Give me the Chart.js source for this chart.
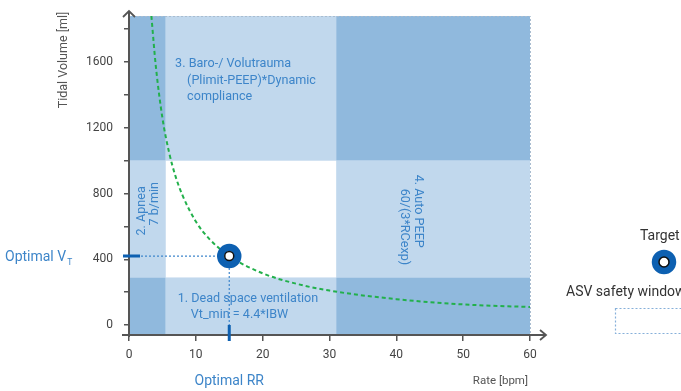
<!DOCTYPE html>
<html>
<head>
<meta charset="utf-8">
<script src="https://cdn.jsdelivr.net/npm/chart.js@4.4.0/dist/chart.umd.min.js"></script>
<style>
  html, body { margin: 0; padding: 0; background: #fff; overflow: hidden; }
</style>
</head>
<body>
<canvas id="chart" width="681" height="391"></canvas>
<script>
// valeurs
const curveRate = [3.35, 4, 5, 6, 7, 8, 10, 12, 15, 20, 25, 30, 40, 50, 60];
const curveVt = [1880, 1580, 1260, 1050, 900, 790, 630, 525, 420, 315, 252, 210, 158, 126, 110];
const targetRate = [15];
const targetVt = [420];
// limites de la fenetre ASV
const rateLimits = [5.5, 31];
const vtLimits = [290, 1000];
const xTicks = [0, 10, 20, 30, 40, 50, 60];
const yTicks = [0, 200, 400, 600, 800, 1000, 1200, 1400, 1600, 1800];
const yLabels = [0, 400, 800, 1200, 1600];

const light = "#c1d8ed";
const dark = "#90b9dd";
const textBlue = "#3d85c9";
const ringBlue = "#0d60b1";

function drawLines(ctx, lines, lh) {
  lines.forEach((l, i) => ctx.fillText(l[0], l[1], i * lh));
}

const zones = {
  id: "zones",
  beforeDraw(chart) {
    const { ctx, chartArea: a, scales: { x, y } } = chart;
    const xs = [a.left, x.getPixelForValue(rateLimits[0]), x.getPixelForValue(rateLimits[1]), a.right];
    const ys = [a.top, y.getPixelForValue(vtLimits[1]), y.getPixelForValue(vtLimits[0]), a.bottom];
    ctx.save();
    for (let i = 0; i < 3; i++) {
      for (let j = 0; j < 3; j++) {
        const n = (i != 1 ? 1 : 0) + (j != 1 ? 1 : 0);
        if (n == 0) continue;
        ctx.fillStyle = n == 2 ? dark : light;
        ctx.fillRect(xs[i], ys[j], xs[i + 1] - xs[i], ys[j + 1] - ys[j]);
      }
    }
    // bord pointille haut et droite
    ctx.strokeStyle = "#a9bccf";
    ctx.lineWidth = 1;
    ctx.setLineDash([2, 2]);
    ctx.beginPath();
    ctx.moveTo(a.left, a.top + 0.5);
    ctx.lineTo(a.right + 0.5, a.top + 0.5);
    ctx.lineTo(a.right + 0.5, a.bottom);
    ctx.stroke();
    ctx.restore();
  },
  beforeDatasetsDraw(chart) {
    const { ctx, chartArea: a, scales: { x, y } } = chart;
    const px = x.getPixelForValue(targetRate[0]);
    const py = y.getPixelForValue(targetVt[0]);
    ctx.save();
    // lignes guides
    ctx.strokeStyle = "#3f86cc";
    ctx.lineWidth = 1.2;
    ctx.setLineDash([2, 2]);
    ctx.beginPath();
    ctx.moveTo(a.left, py);
    ctx.lineTo(px, py);
    ctx.moveTo(px, py);
    ctx.lineTo(px, a.bottom);
    ctx.stroke();
    ctx.setLineDash([]);

    // textes des zones
    ctx.fillStyle = textBlue;
    ctx.font = "12.6px Roboto";
    ctx.textBaseline = "middle";
    ctx.textAlign = "left";
    ctx.save();
    ctx.translate(x.getPixelForValue(6.9), y.getPixelForValue(1588));
    drawLines(ctx, [["3. Baro-/ Volutrauma", 0], ["(Plimit-PEEP)*Dynamic", 12], ["compliance", 12]], 16.5);
    ctx.restore();
    ctx.save();
    ctx.translate(x.getPixelForValue(7.3), y.getPixelForValue(158));
    drawLines(ctx, [["1. Dead space ventilation", 0], ["Vt_min = 4.4*IBW", 13]], 16);
    ctx.restore();
    ctx.save();
    ctx.translate(x.getPixelForValue(1.95), y.getPixelForValue(545));
    ctx.rotate(-Math.PI / 2);
    drawLines(ctx, [["2. Apnea", 0], ["7 b/min", 10]], 13);
    ctx.restore();
    ctx.save();
    ctx.translate(x.getPixelForValue(43.2), y.getPixelForValue(915));
    ctx.rotate(Math.PI / 2);
    drawLines(ctx, [["4. Auto PEEP", 0], ["60/(3*RCexp)", 14]], 14);
    ctx.restore();
    ctx.restore();
  },
  afterDraw(chart) {
    const { ctx, chartArea: a, scales: { x, y } } = chart;
    const px = x.getPixelForValue(targetRate[0]);
    const py = y.getPixelForValue(targetVt[0]);
    ctx.save();
    // axes avec fleches
    ctx.strokeStyle = "#555";
    ctx.lineWidth = 2;
    ctx.beginPath();
    ctx.moveTo(a.left, a.top - 4);
    ctx.lineTo(a.left, a.bottom + 2);
    ctx.moveTo(a.left - 7, a.bottom);
    ctx.lineTo(a.right + 15, a.bottom);
    ctx.stroke();
    ctx.lineWidth = 1.8;
    ctx.beginPath();
    ctx.moveTo(a.left - 6, a.top + 1);
    ctx.lineTo(a.left, a.top - 5);
    ctx.lineTo(a.left + 6, a.top + 1);
    ctx.moveTo(a.right + 10, a.bottom - 5);
    ctx.lineTo(a.right + 16, a.bottom);
    ctx.lineTo(a.right + 10, a.bottom + 5);
    ctx.stroke();

    // reperes optimaux
    ctx.strokeStyle = ringBlue;
    ctx.lineWidth = 3;
    ctx.beginPath();
    ctx.moveTo(a.left - 6, py);
    ctx.lineTo(a.left + 11, py);
    ctx.moveTo(px, a.bottom - 10);
    ctx.lineTo(px, a.bottom + 6);
    ctx.stroke();

    ctx.fillStyle = textBlue;
    ctx.font = "14px Roboto";
    ctx.textBaseline = "middle";
    ctx.textAlign = "left";
    ctx.fillText("Optimal V", 5, py + 1);
    const w = ctx.measureText("Optimal V").width;
    ctx.font = "8.5px Roboto";
    ctx.fillText("T", 5 + w + 1, py + 7);
    ctx.font = "14px Roboto";
    ctx.textAlign = "center";
    ctx.fillText("Optimal RR", px, 381);

    ctx.fillStyle = "#555";
    ctx.font = "11.5px Roboto";
    ctx.textAlign = "right";
    ctx.fillText("Rate [bpm]", a.right - 2, 381);
    ctx.save();
    ctx.translate(64, 60);
    ctx.rotate(-Math.PI / 2);
    ctx.textAlign = "center";
    ctx.font = "12.5px Roboto";
    ctx.fillText("Tidal Volume [ml]", 0, 0);
    ctx.restore();

    // legende
    ctx.fillStyle = "#333";
    ctx.font = "14px Roboto";
    ctx.textAlign = "left";
    ctx.fillText("Target", 640, 236);
    ctx.fillText("ASV safety window", 566, 292);
    ctx.strokeStyle = ringBlue;
    ctx.lineWidth = 7.5;
    ctx.beginPath();
    ctx.arc(664, 262, 8.5, 0, Math.PI * 2);
    ctx.stroke();
    ctx.strokeStyle = "#111";
    ctx.lineWidth = 1.5;
    ctx.beginPath();
    ctx.arc(664, 262, 5, 0, Math.PI * 2);
    ctx.stroke();
    ctx.strokeStyle = "#86b0da";
    ctx.lineWidth = 1.2;
    ctx.setLineDash([2, 2]);
    ctx.strokeRect(615.5, 308.5, 100, 25);
    ctx.restore();
  }
};

const ctx = document.getElementById("chart");
const asvChart = new Chart(ctx, {
  type: "scatter",
  data: {
    datasets: [
      {
        type: "line",
        order: 2,
        data: curveRate.map((r, i) => ({ x: r, y: curveVt[i] })),
        borderColor: "#22b04b",
        borderWidth: 2,
        borderDash: [4, 3],
        pointRadius: 0,
        cubicInterpolationMode: "monotone",
        fill: false,
      },
      {
        order: 1,
        data: targetRate.map((r, i) => ({ x: r, y: targetVt[i] })),
        pointRadius: 8.5,
        pointBorderWidth: 7.5,
        borderColor: ringBlue,
        backgroundColor: "#fff",
      },
      {
        order: 0,
        data: targetRate.map((r, i) => ({ x: r, y: targetVt[i] })),
        pointRadius: 4.5,
        pointBorderWidth: 1.5,
        borderColor: "#111",
        backgroundColor: "#fff",
      },
    ],
  },
  options: {
    responsive: false,
    animation: false,
    devicePixelRatio: 1,
    layout: { padding: { top: 12, right: 151, left: 0, bottom: 0 } },
    plugins: { legend: { display: false }, tooltip: { enabled: false } },
    scales: {
      x: {
        type: "linear",
        min: 0,
        max: 60,
        afterBuildTicks: (s) => { s.ticks = xTicks.map((v) => ({ value: v })); },
        afterFit: (s) => { s.height = 56; s.paddingLeft = 0; s.paddingRight = 0; },
        border: { display: false },
        grid: { drawOnChartArea: false, drawTicks: true, tickLength: 6, color: "#555", lineWidth: 1.5 },
        ticks: { color: "#444", font: { family: "Roboto", size: 12 }, padding: 7, maxRotation: 0 },
      },
      y: {
        min: -60,
        max: 1880,
        afterBuildTicks: (s) => { s.ticks = yTicks.map((v) => ({ value: v })); },
        afterFit: (s) => { s.width = 129; s.paddingTop = 0; s.paddingBottom = 0; },
        border: { display: false },
        grid: { drawOnChartArea: false, drawTicks: true, tickLength: 5, color: "#555", lineWidth: 1.5 },
        ticks: {
          color: "#444",
          font: { family: "Roboto", size: 12 },
          padding: 11,
          callback: (v) => (yLabels.includes(v) ? v : ""),
        },
      },
    },
  },
  plugins: [zones],
});
</script>
</body>
</html>
